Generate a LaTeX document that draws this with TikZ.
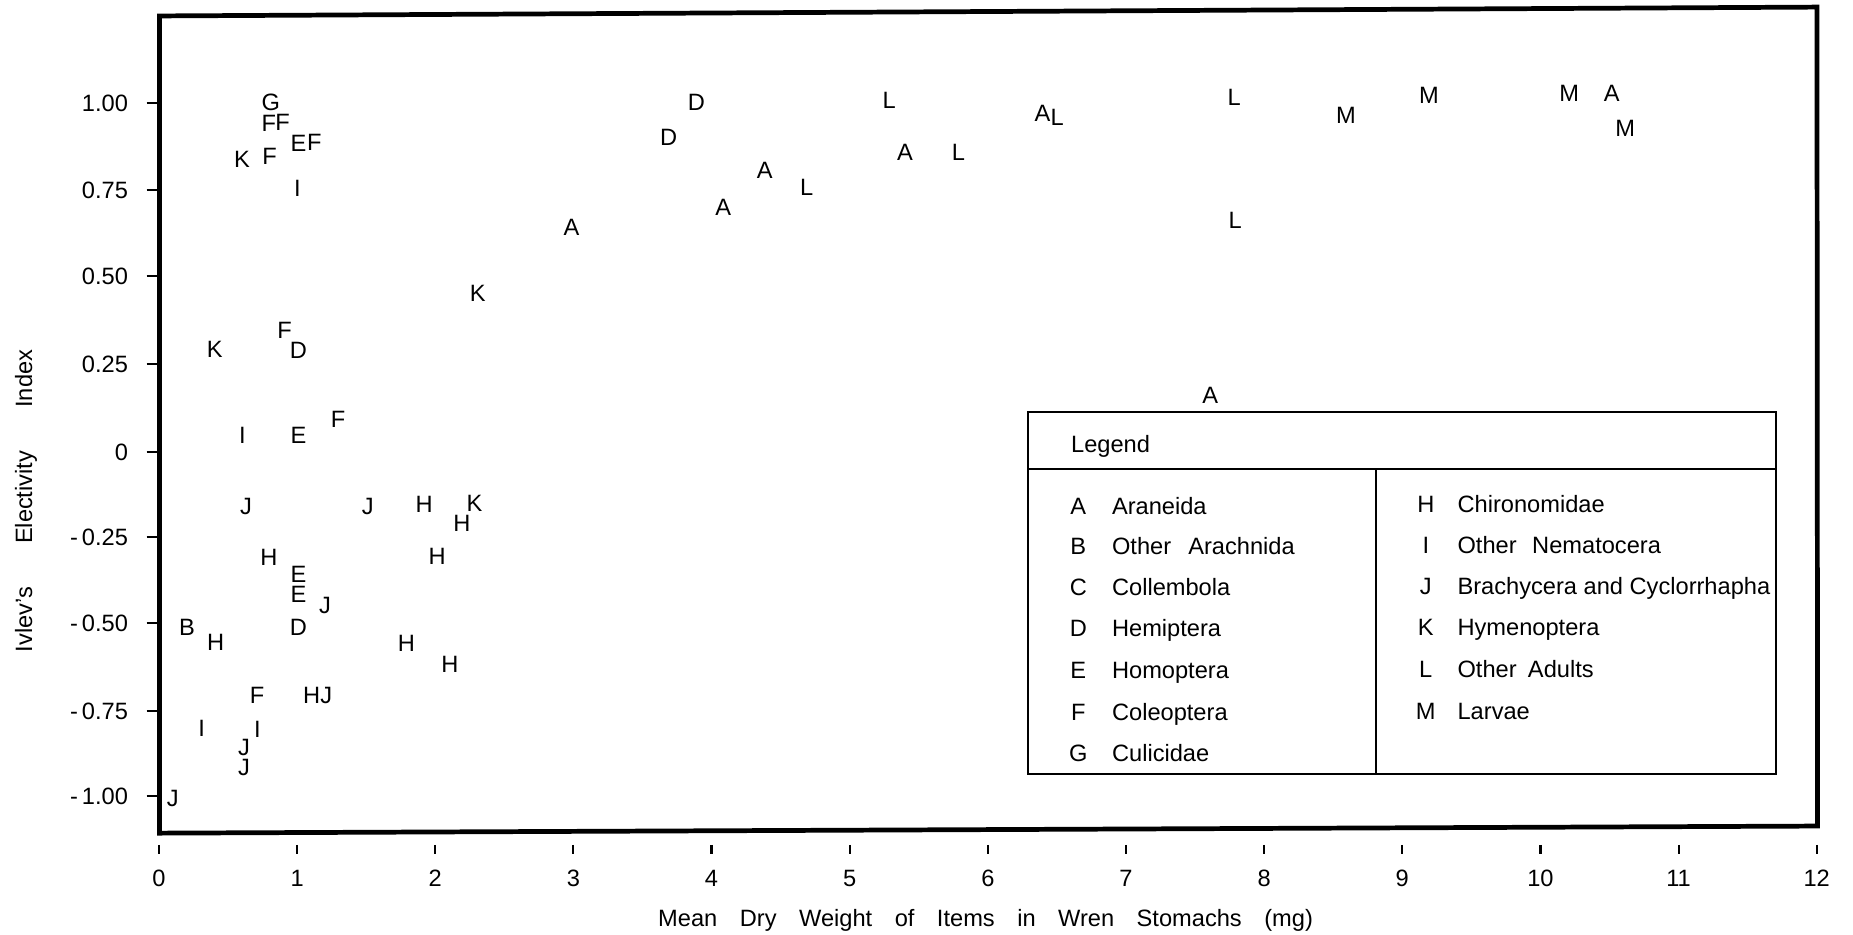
\documentclass[tikz,border=0pt]{standalone}
\usepackage{fontspec}
\setmainfont{Liberation Sans}
\begin{document}
\begin{tikzpicture}[x={(0.5pt,0)}, y={(0,-0.5pt)},
  txt/.style={inner sep=0pt, font=\fontsize{10}{12}\selectfont, text height=7.16pt, text depth=0pt},
  frameline/.style={line width=2pt, line join=miter},
  tickmark/.style={line width=0.9pt},
  legline/.style={line width=0.8pt}]
\useasboundingbox (0,0) rectangle (1568,791);
\fill[white] (0,0) rectangle (1568,791);
% plot frame
\coordinate (TL) at (135,13.5);
\coordinate (TR) at (1537.5,6);
\coordinate (BR) at (1538,699);
\coordinate (BL) at (135,705);
\draw[frameline] (TL) -- (TR) -- (BR) -- (BL) -- cycle;
% y ticks and labels
\foreach \yy/\lab [count=\i] in {87.5/{1.00}, 160.7/{0.75}, 233.9/{0.50}, 307.8/{0.25}, 382.2/{0}, 454.7/{-\,0.25}, 527.5/{-\,0.50}, 601.4/{-\,0.75}, 673.3/{-\,1.00}} {
  \draw[tickmark] (124,\yy) -- (134.8,\yy);
  \node[txt, anchor=east] (yl\i) at (108.7,\yy) {\lab};
}
% x ticks and labels
\foreach \k [count=\i] in {0,...,12} {
  \pgfmathsetmacro\xx{134.5+116.9*\k}
  \draw[tickmark] (\xx,715) -- (\xx,723);
  \node[txt] (xl\i) at (\xx,743) {\k};
}
% axis titles
\node[txt] (xtitle) at (834,777) {\makebox[277pt][s]{Mean\hfil Dry\hfil Weight\hfil of\hfil Items\hfil in\hfil Wren\hfil Stomachs\hfil (mg)}};
\node[txt, rotate=90] (ytitle) at (20,424) {\makebox[128pt][s]{Ivlev's\hfil Electivity\hfil Index}};
% data points
\foreach \t/\px/\py [count=\i] in {
  G/229.2/86.0, F/227.5/104.4, F/239.2/103.0, E/252.6/121.3, F/266.0/119.9,
  K/204.8/134.8, F/228.2/132.0, I/251.6/159.4, A/483.5/191.8, K/404.2/248.2,
  F/240.9/279.3, D/252.6/296.2, K/181.7/295.6, F/286.1/354.9, I/205.1/368.1,
  E/252.6/368.1,
  J/208.1/428.2, J/311.2/428.2, H/359.0/426.5, K/401.5/425.4, H/390.8/442.9,
  H/227.5/471.1, H/370.0/470.5, E/252.6/485.5, E/252.6/503.0, J/275.0/512.0,
  B/158.3/530.3, D/252.6/530.9, H/182.4/543.0, H/344.0/544.4, H/380.8/561.9,
  F/217.5/588.2, H/263.7/588.2, J/276.0/588.2, I/170.6/616.4, I/217.8/617.2,
  J/206.4/631.9, J/206.4/648.8, J/146.2/675.6,
  D/589.3/86.0, D/565.9/115.7, A/647.1/143.9, L/682.7/158.5, A/612.0/174.9,
  L/752.5/84.6, A/765.8/128.3, L/811.1/128.3, A/882.1/95.9, L/894.6/98.7,
  L/1044.4/81.8, M/1138.9/97.3, M/1209.1/80.4, M/1327.8/79.0, A/1363.9/79.0,
  M/1375.3/108.6, L/1045.2/186.2, A/1024.0/334.0} {
  \node[txt] (d\i) at (\px,\py) {\t};
}
% legend
\coordinate (LgTL) at (870,349);
\coordinate (LgBR) at (1503,655);
\draw[legline] (LgTL) rectangle (LgBR);
\draw[legline] (870,397) -- (1503,397);
\draw[legline] (1164,397) -- (1164,655);
\node[txt, anchor=west] (legtitle) at (906,375.4) {Legend};
\foreach \l/\n/\yy [count=\i] in {A/Araneida/428.1, B/{Other\hspace{4.5pt} Arachnida}/462, C/Collembola/497, D/Hemiptera/531.7, E/Homoptera/566.9, F/Coleoptera/602.2, G/Culicidae/636.9} {
  \node[txt] (la\i) at (912.5,\yy) {\l};
  \node[txt, anchor=west] (ln\i) at (940.6,\yy) {\n};
}
\foreach \l/\n/\yy [count=\i] in {H/Chironomidae/426.4, I/{Other\hspace{3.8pt} Nematocera}/461.1, J/Brachycera and Cyclorrhapha/495.8, K/Hymenoptera/530.8, L/{Other\hspace{2pt} Adults}/565.8, M/Larvae/601.3} {
  \node[txt] (ra\i) at (1206.5,\yy) {\l};
  \node[txt, anchor=west] (rn\i) at (1233,\yy) {\n};
}
\end{tikzpicture}
\end{document}
